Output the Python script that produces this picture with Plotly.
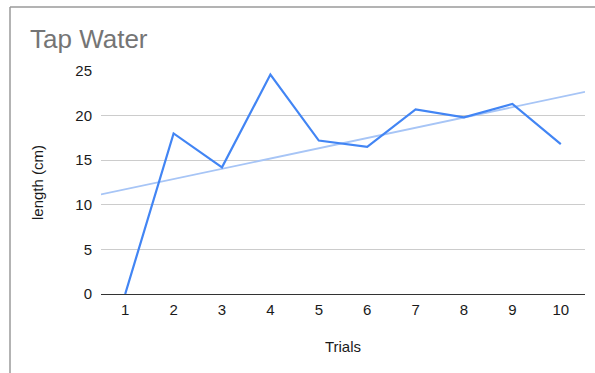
import numpy as np
import plotly.graph_objects as go

# Tap water growth measurements per trial
trials = [1, 2, 3, 4, 5, 6, 7, 8, 9, 10]
lengths_cm = [0, 18.0, 14.2, 24.6, 17.2, 16.5, 20.7, 19.8, 21.3, 16.8]
y_ticks = [0, 5, 10, 15, 20, 25]

W, H = 595, 373
L, R, T, B = 101, 10, 71, 79
pw, ph = W - L - R, H - T - B

# Linear trendline, stretched across the full category span
slope, intercept = np.polyfit(trials, lengths_cm, 1)
trend_x = [0.5, 10.5]
trend_y = [slope * x + intercept for x in trend_x]

font_family = "Arial, Liberation Sans, sans-serif"

fig = go.Figure()
fig.add_trace(go.Scatter(
    x=trend_x, y=trend_y, mode="lines",
    line=dict(color="#a7c5f6", width=1.8),
    hoverinfo="skip", showlegend=False,
))
fig.add_trace(go.Scatter(
    x=trials, y=lengths_cm, mode="lines",
    line=dict(color="#4285f4", width=2.2),
    showlegend=False, cliponaxis=False,
))

def px_x(px):
    return (px - L) / pw

def px_y(py):
    return (H - B - py) / ph

# Thin frame along the top and left edges
frame = dict(color="#9a9a9a", width=1.5)
fig.add_shape(type="line", xref="paper", yref="paper",
              x0=px_x(10), x1=px_x(W + 5), y0=px_y(7), y1=px_y(7), line=frame)
fig.add_shape(type="line", xref="paper", yref="paper",
              x0=px_x(10), x1=px_x(10), y0=px_y(7), y1=px_y(H + 5), line=frame)

fig.update_layout(
    width=W, height=H,
    margin=dict(l=L, r=R, t=T, b=B),
    paper_bgcolor="white", plot_bgcolor="white",
    font=dict(family=font_family, color="#1a1a1a", size=15),
    title=dict(
        text="Tap Water", xref="container", yref="container",
        x=30 / W, xanchor="left", y=1 - 39 / H, yanchor="middle",
        font=dict(size=26, color="#757575", family=font_family),
    ),
    xaxis=dict(
        range=[0.5, 10.5], tickvals=trials, ticktext=[str(t) for t in trials],
        showgrid=False, zeroline=False,
        showline=True, linecolor="#333333", linewidth=1,
        ticks="outside", ticklen=2, tickcolor="rgba(0,0,0,0)",
        tickfont=dict(size=15),
        title=dict(text="Trials", standoff=24, font=dict(size=15)),
    ),
    yaxis=dict(
        range=[0, 25], tickvals=y_ticks,
        showgrid=True, gridcolor="#cccccc", gridwidth=1,
        zeroline=False, showline=False,
        ticks="outside", ticklen=5, tickcolor="rgba(0,0,0,0)",
        tickfont=dict(size=15),
        title=dict(text="length (cm)", standoff=28, font=dict(size=15)),
    ),
)

fig.write_html("out.html")
